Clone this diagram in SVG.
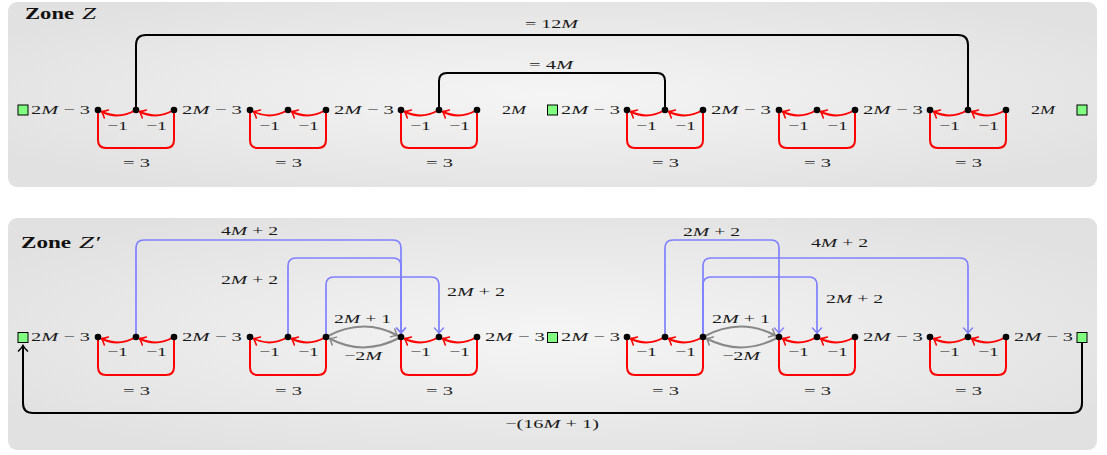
<svg xmlns="http://www.w3.org/2000/svg" width="1107" height="455" viewBox="0 0 1107 455">
<defs>
<radialGradient id="bg" cx="0.5" cy="0.5" r="0.6">
<stop offset="0" stop-color="#f5f5f5"/>
<stop offset="1" stop-color="#e1e1e1"/>
</radialGradient>
<marker id="aR" markerUnits="userSpaceOnUse" markerWidth="14" markerHeight="14" viewBox="-7 -7 14 14" refX="0" refY="0" orient="auto"><path d="M-5.5,-4.5 Q-2,-1 0,0 Q-2,1 -5.5,4.5" fill="none" stroke="#ff0000" stroke-width="1.5" stroke-linecap="round"/></marker>
<marker id="aB" markerUnits="userSpaceOnUse" markerWidth="14" markerHeight="14" viewBox="-7 -7 14 14" refX="0" refY="0" orient="auto"><path d="M-5.5,-4.5 Q-2,-1 0,0 Q-2,1 -5.5,4.5" fill="none" stroke="#8080ff" stroke-width="1.5" stroke-linecap="round"/></marker>
<marker id="aG" markerUnits="userSpaceOnUse" markerWidth="14" markerHeight="14" viewBox="-7 -7 14 14" refX="0" refY="0" orient="auto"><path d="M-5.5,-4.5 Q-2,-1 0,0 Q-2,1 -5.5,4.5" fill="none" stroke="#888888" stroke-width="1.5" stroke-linecap="round"/></marker>
<marker id="aK" markerUnits="userSpaceOnUse" markerWidth="14" markerHeight="14" viewBox="-7 -7 14 14" refX="0" refY="0" orient="auto"><path d="M-5.5,-4.5 Q-2,-1 0,0 Q-2,1 -5.5,4.5" fill="none" stroke="#000000" stroke-width="1.6" stroke-linecap="round"/></marker>
</defs>
<style>
.zone{fill:url(#bg)}
.m{font-family:"Liberation Serif","DejaVu Serif",serif;font-size:12.5px;fill:#1a1a1a}
.i{font-style:italic}
.t{font-family:"Liberation Serif","DejaVu Serif",serif;font-size:16px;font-weight:bold;fill:#111}
.ti{font-family:"Liberation Serif","DejaVu Serif",serif;font-size:16px;font-style:italic;fill:#111}
.br{fill:none;stroke:#ff0000;stroke-width:2;stroke-linejoin:round}
.ra{fill:none;stroke:#ff0000;stroke-width:2;marker-end:url(#aR)}
.ba{fill:none;stroke:#8080ff;stroke-width:1.7;marker-end:url(#aB)}
.ga{fill:none;stroke:#888888;stroke-width:2;marker-end:url(#aG)}
.kl{fill:none;stroke:#000;stroke-width:2}
.ka{fill:none;stroke:#000;stroke-width:2;marker-end:url(#aK)}
.d{fill:#000}
.sq{fill:#80ff80;stroke:#000;stroke-width:1}
</style>

<rect class="zone" x="8" y="2" width="1089" height="185" rx="9"/>
<rect class="zone" x="8" y="218" width="1089" height="232" rx="9"/>

<g id="titles">
<text class="t" x="25" y="19" textLength="49" lengthAdjust="spacingAndGlyphs">Zone</text>
<text class="ti" x="82" y="19" textLength="14" lengthAdjust="spacingAndGlyphs">Z</text>
<text class="t" x="21" y="248" textLength="50" lengthAdjust="spacingAndGlyphs">Zone</text>
<text class="ti" x="79" y="248" textLength="21" lengthAdjust="spacingAndGlyphs">Z′</text>
</g>

<g id="connectors">
<path class="kl" d="M136,110 V45 Q136,35 146,35 H958 Q968,35 968,45 V110"/>
<path class="kl" d="M439,110 V81 Q439,73 447,73 H657 Q665,73 665,81 V110"/>
<text class="m" x="525" y="28" textLength="53" lengthAdjust="spacingAndGlyphs">= 12<tspan class="i">M</tspan></text>
<text class="m" x="529" y="69" textLength="44" lengthAdjust="spacingAndGlyphs">= 4<tspan class="i">M</tspan></text>
<path class="ra" d="M136,110 Q118,120 101.5,111.5"/><path class="ra" d="M174,110 Q156,120 139.5,111.5"/>
<path class="ra" d="M288,110 Q270,120 253.5,111.5"/><path class="ra" d="M326,110 Q308,120 291.5,111.5"/>
<path class="ra" d="M439,110 Q421,120 404.5,111.5"/><path class="ra" d="M477,110 Q459,120 442.5,111.5"/>
<path class="ra" d="M665,110 Q647,120 630.5,111.5"/><path class="ra" d="M703,110 Q685,120 668.5,111.5"/>
<path class="ra" d="M817,110 Q799,120 782.5,111.5"/><path class="ra" d="M855,110 Q837,120 820.5,111.5"/>
<path class="ra" d="M968,110 Q950,120 933.5,111.5"/><path class="ra" d="M1006,110 Q988,120 971.5,111.5"/>
<path class="ra" d="M136,337 Q118,347 101.5,338.5"/><path class="ra" d="M174,337 Q156,347 139.5,338.5"/>
<path class="ra" d="M288,337 Q270,347 253.5,338.5"/><path class="ra" d="M326,337 Q308,347 291.5,338.5"/>
<path class="ra" d="M439,337 Q421,347 404.5,338.5"/><path class="ra" d="M477,337 Q459,347 442.5,338.5"/>
<path class="ra" d="M665,337 Q647,347 630.5,338.5"/><path class="ra" d="M703,337 Q685,347 668.5,338.5"/>
<path class="ra" d="M817,337 Q799,347 782.5,338.5"/><path class="ra" d="M855,337 Q837,347 820.5,338.5"/>
<path class="ra" d="M968,337 Q950,347 933.5,338.5"/><path class="ra" d="M1006,337 Q988,347 971.5,338.5"/>

<path class="ba" d="M136,337 V248 Q136,240 144,240 H393 Q401,240 401,248 V333.5"/>
<path class="ba" d="M288,337 V266 Q288,258 296,258 H393 Q401,258 401,266 V333.5"/>
<path class="ba" d="M326,337 V285 Q326,277 334,277 H431 Q439,277 439,285 V333.5"/>
<path class="ba" d="M665,337 V248 Q665,240 673,240 H771 Q779,240 779,248 V333.5"/>
<path class="ba" d="M703,337 V266 Q703,258 711,258 H960 Q968,258 968,266 V333.5"/>
<path class="ba" d="M703,337 V285 Q703,277 711,277 H809 Q817,277 817,285 V333.5"/>
<text class="m" x="221" y="235" textLength="57" lengthAdjust="spacingAndGlyphs">4<tspan class="i">M</tspan> + 2</text>
<text class="m" x="221" y="284" textLength="57" lengthAdjust="spacingAndGlyphs">2<tspan class="i">M</tspan> + 2</text>
<text class="m" x="447" y="296" textLength="58" lengthAdjust="spacingAndGlyphs">2<tspan class="i">M</tspan> + 2</text>
<text class="m" x="683" y="236" textLength="57" lengthAdjust="spacingAndGlyphs">2<tspan class="i">M</tspan> + 2</text>
<text class="m" x="811" y="247" textLength="57" lengthAdjust="spacingAndGlyphs">4<tspan class="i">M</tspan> + 2</text>
<text class="m" x="826" y="303" textLength="57" lengthAdjust="spacingAndGlyphs">2<tspan class="i">M</tspan> + 2</text>

<path class="ga" d="M326,337 Q363,317 397.5,335.5"/>
<path class="ga" d="M401,337 Q364,357 329.5,338.5"/>
<path class="ga" d="M703,337 Q740,317 775.5,335.5"/>
<path class="ga" d="M779,337 Q742,357 706.5,338.5"/>
<text class="m" x="334" y="323" textLength="57" lengthAdjust="spacingAndGlyphs">2<tspan class="i">M</tspan> + 1</text>
<text class="m" x="344" y="360" textLength="38" lengthAdjust="spacingAndGlyphs">−2<tspan class="i">M</tspan></text>
<text class="m" x="712" y="323" textLength="58" lengthAdjust="spacingAndGlyphs">2<tspan class="i">M</tspan> + 1</text>
<text class="m" x="722" y="360" textLength="38" lengthAdjust="spacingAndGlyphs">−2<tspan class="i">M</tspan></text>

<path class="ka" d="M1082,343 V403 Q1082,413 1072,413 H33 Q23,413 23,403 V345.5"/>
<text class="m" x="505" y="428" textLength="94" lengthAdjust="spacingAndGlyphs">−(16<tspan class="i">M</tspan> + 1)</text>
</g>

<g id="terminals">
<rect class="sq" x="18" y="105" width="10" height="10"/>
<rect class="sq" x="547.5" y="105" width="10" height="10"/>
<rect class="sq" x="1077" y="105" width="10" height="10"/>
<rect class="sq" x="18" y="332.5" width="10" height="10"/>
<rect class="sq" x="547.5" y="332.5" width="10" height="10"/>
<rect class="sq" x="1077" y="332.5" width="10" height="10"/>
</g>

<g id="weights">
<text class="m" x="31" y="114" textLength="59" lengthAdjust="spacingAndGlyphs">2<tspan class="i">M</tspan> − 3</text>
<text class="m" x="182" y="114" textLength="60" lengthAdjust="spacingAndGlyphs">2<tspan class="i">M</tspan> − 3</text>
<text class="m" x="334" y="114" textLength="60" lengthAdjust="spacingAndGlyphs">2<tspan class="i">M</tspan> − 3</text>
<text class="m" x="502" y="114" textLength="24" lengthAdjust="spacingAndGlyphs">2<tspan class="i">M</tspan></text>
<text class="m" x="561" y="114" textLength="59" lengthAdjust="spacingAndGlyphs">2<tspan class="i">M</tspan> − 3</text>
<text class="m" x="711" y="114" textLength="60" lengthAdjust="spacingAndGlyphs">2<tspan class="i">M</tspan> − 3</text>
<text class="m" x="863" y="114" textLength="60" lengthAdjust="spacingAndGlyphs">2<tspan class="i">M</tspan> − 3</text>
<text class="m" x="1031" y="114" textLength="24" lengthAdjust="spacingAndGlyphs">2<tspan class="i">M</tspan></text>
<text class="m" x="31" y="341" textLength="59" lengthAdjust="spacingAndGlyphs">2<tspan class="i">M</tspan> − 3</text>
<text class="m" x="182" y="341" textLength="60" lengthAdjust="spacingAndGlyphs">2<tspan class="i">M</tspan> − 3</text>
<text class="m" x="485" y="341" textLength="60" lengthAdjust="spacingAndGlyphs">2<tspan class="i">M</tspan> − 3</text>
<text class="m" x="561" y="341" textLength="59" lengthAdjust="spacingAndGlyphs">2<tspan class="i">M</tspan> − 3</text>
<text class="m" x="863" y="341" textLength="60" lengthAdjust="spacingAndGlyphs">2<tspan class="i">M</tspan> − 3</text>
<text class="m" x="1014" y="341" textLength="59" lengthAdjust="spacingAndGlyphs">2<tspan class="i">M</tspan> − 3</text>
</g>

<g id="gZ1">
<path class="br" d="M98,110 V140 Q98,148 106,148 H166 Q174,148 174,140 V110"/>
<circle class="d" cx="98" cy="110" r="3.3"/><circle class="d" cx="136" cy="110" r="3.3"/><circle class="d" cx="174" cy="110" r="3.3"/>
<text class="m" x="107" y="130" textLength="21" lengthAdjust="spacingAndGlyphs">−1</text><text class="m" x="146" y="130" textLength="21" lengthAdjust="spacingAndGlyphs">−1</text>
<text class="m" x="123" y="167" textLength="27" lengthAdjust="spacingAndGlyphs">= 3</text>
</g>
<g id="gZ2">
<path class="br" d="M250,110 V140 Q250,148 258,148 H318 Q326,148 326,140 V110"/>
<circle class="d" cx="250" cy="110" r="3.3"/><circle class="d" cx="288" cy="110" r="3.3"/><circle class="d" cx="326" cy="110" r="3.3"/>
<text class="m" x="259" y="130" textLength="21" lengthAdjust="spacingAndGlyphs">−1</text><text class="m" x="298" y="130" textLength="21" lengthAdjust="spacingAndGlyphs">−1</text>
<text class="m" x="275" y="167" textLength="27" lengthAdjust="spacingAndGlyphs">= 3</text>
</g>
<g id="gZ3">
<path class="br" d="M401,110 V140 Q401,148 409,148 H469 Q477,148 477,140 V110"/>
<circle class="d" cx="401" cy="110" r="3.3"/><circle class="d" cx="439" cy="110" r="3.3"/><circle class="d" cx="477" cy="110" r="3.3"/>
<text class="m" x="410" y="130" textLength="21" lengthAdjust="spacingAndGlyphs">−1</text><text class="m" x="449" y="130" textLength="21" lengthAdjust="spacingAndGlyphs">−1</text>
<text class="m" x="426" y="167" textLength="27" lengthAdjust="spacingAndGlyphs">= 3</text>
</g>
<g id="gZ4">
<path class="br" d="M627,110 V140 Q627,148 635,148 H695 Q703,148 703,140 V110"/>
<circle class="d" cx="627" cy="110" r="3.3"/><circle class="d" cx="665" cy="110" r="3.3"/><circle class="d" cx="703" cy="110" r="3.3"/>
<text class="m" x="636" y="130" textLength="21" lengthAdjust="spacingAndGlyphs">−1</text><text class="m" x="675" y="130" textLength="21" lengthAdjust="spacingAndGlyphs">−1</text>
<text class="m" x="652" y="167" textLength="27" lengthAdjust="spacingAndGlyphs">= 3</text>
</g>
<g id="gZ5">
<path class="br" d="M779,110 V140 Q779,148 787,148 H847 Q855,148 855,140 V110"/>
<circle class="d" cx="779" cy="110" r="3.3"/><circle class="d" cx="817" cy="110" r="3.3"/><circle class="d" cx="855" cy="110" r="3.3"/>
<text class="m" x="788" y="130" textLength="21" lengthAdjust="spacingAndGlyphs">−1</text><text class="m" x="827" y="130" textLength="21" lengthAdjust="spacingAndGlyphs">−1</text>
<text class="m" x="804" y="167" textLength="27" lengthAdjust="spacingAndGlyphs">= 3</text>
</g>
<g id="gZ6">
<path class="br" d="M930,110 V140 Q930,148 938,148 H998 Q1006,148 1006,140 V110"/>
<circle class="d" cx="930" cy="110" r="3.3"/><circle class="d" cx="968" cy="110" r="3.3"/><circle class="d" cx="1006" cy="110" r="3.3"/>
<text class="m" x="939" y="130" textLength="21" lengthAdjust="spacingAndGlyphs">−1</text><text class="m" x="978" y="130" textLength="21" lengthAdjust="spacingAndGlyphs">−1</text>
<text class="m" x="955" y="167" textLength="27" lengthAdjust="spacingAndGlyphs">= 3</text>
</g>

<g id="gP1">
<path class="br" d="M98,337 V367 Q98,375 106,375 H166 Q174,375 174,367 V337"/>
<circle class="d" cx="98" cy="337" r="3.3"/><circle class="d" cx="136" cy="337" r="3.3"/><circle class="d" cx="174" cy="337" r="3.3"/>
<text class="m" x="107" y="356" textLength="21" lengthAdjust="spacingAndGlyphs">−1</text><text class="m" x="146" y="356" textLength="21" lengthAdjust="spacingAndGlyphs">−1</text>
<text class="m" x="123" y="395" textLength="27" lengthAdjust="spacingAndGlyphs">= 3</text>
</g>
<g id="gP2">
<path class="br" d="M250,337 V367 Q250,375 258,375 H318 Q326,375 326,367 V337"/>
<circle class="d" cx="250" cy="337" r="3.3"/><circle class="d" cx="288" cy="337" r="3.3"/><circle class="d" cx="326" cy="337" r="3.3"/>
<text class="m" x="259" y="356" textLength="21" lengthAdjust="spacingAndGlyphs">−1</text><text class="m" x="298" y="356" textLength="21" lengthAdjust="spacingAndGlyphs">−1</text>
<text class="m" x="275" y="395" textLength="27" lengthAdjust="spacingAndGlyphs">= 3</text>
</g>
<g id="gP3">
<path class="br" d="M401,337 V367 Q401,375 409,375 H469 Q477,375 477,367 V337"/>
<circle class="d" cx="401" cy="337" r="3.3"/><circle class="d" cx="439" cy="337" r="3.3"/><circle class="d" cx="477" cy="337" r="3.3"/>
<text class="m" x="410" y="356" textLength="21" lengthAdjust="spacingAndGlyphs">−1</text><text class="m" x="449" y="356" textLength="21" lengthAdjust="spacingAndGlyphs">−1</text>
<text class="m" x="426" y="395" textLength="27" lengthAdjust="spacingAndGlyphs">= 3</text>
</g>
<g id="gP4">
<path class="br" d="M627,337 V367 Q627,375 635,375 H695 Q703,375 703,367 V337"/>
<circle class="d" cx="627" cy="337" r="3.3"/><circle class="d" cx="665" cy="337" r="3.3"/><circle class="d" cx="703" cy="337" r="3.3"/>
<text class="m" x="636" y="356" textLength="21" lengthAdjust="spacingAndGlyphs">−1</text><text class="m" x="675" y="356" textLength="21" lengthAdjust="spacingAndGlyphs">−1</text>
<text class="m" x="652" y="395" textLength="27" lengthAdjust="spacingAndGlyphs">= 3</text>
</g>
<g id="gP5">
<path class="br" d="M779,337 V367 Q779,375 787,375 H847 Q855,375 855,367 V337"/>
<circle class="d" cx="779" cy="337" r="3.3"/><circle class="d" cx="817" cy="337" r="3.3"/><circle class="d" cx="855" cy="337" r="3.3"/>
<text class="m" x="788" y="356" textLength="21" lengthAdjust="spacingAndGlyphs">−1</text><text class="m" x="827" y="356" textLength="21" lengthAdjust="spacingAndGlyphs">−1</text>
<text class="m" x="804" y="395" textLength="27" lengthAdjust="spacingAndGlyphs">= 3</text>
</g>
<g id="gP6">
<path class="br" d="M930,337 V367 Q930,375 938,375 H998 Q1006,375 1006,367 V337"/>
<circle class="d" cx="930" cy="337" r="3.3"/><circle class="d" cx="968" cy="337" r="3.3"/><circle class="d" cx="1006" cy="337" r="3.3"/>
<text class="m" x="939" y="356" textLength="21" lengthAdjust="spacingAndGlyphs">−1</text><text class="m" x="978" y="356" textLength="21" lengthAdjust="spacingAndGlyphs">−1</text>
<text class="m" x="955" y="395" textLength="27" lengthAdjust="spacingAndGlyphs">= 3</text>
</g>
</svg>
